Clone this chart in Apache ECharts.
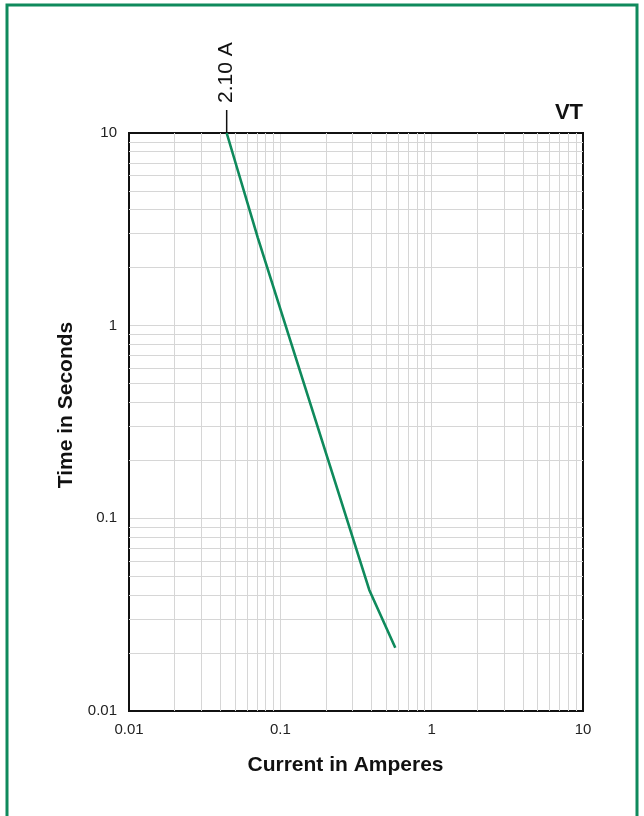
<!DOCTYPE html>
<html>
<head>
<meta charset="utf-8">
<script src="https://cdn.jsdelivr.net/npm/echarts@6/dist/echarts.min.js"></script>
<style>
html,body{margin:0;padding:0;background:#fff;}
#chart{width:644px;height:816px;}
</style>
</head>
<body>
<div id="chart"></div>
<script>
// Data
const currentA = [0.0442, 0.0711, 0.387, 0.575];
const timeS = [10, 2.85, 0.0425, 0.0213];
const ratingValue = 0.0442;
const ratingLabel = '2.10 A';
const curveName = 'VT';
const xMinorGrid = [0.02,0.03,0.04,0.05,0.06,0.07,0.08,0.09,0.2,0.3,0.4,0.5,0.6,0.7,0.8,0.9,2,3,4,5,6,7,8,9];
const yMinorGrid = [0.02,0.03,0.04,0.05,0.06,0.07,0.08,0.09,0.2,0.3,0.4,0.5,0.6,0.7,0.8,0.9,2,3,4,5,6,7,8,9];

const GREEN = '#0f8a5c';
const GRID = '#d6d6d6';
const FONT = '"Liberation Sans", Arial, Helvetica, sans-serif';

const chart = echarts.init(document.getElementById('chart'), null, {renderer:'canvas'});

const curveData = currentA.map((c,i)=>[c, timeS[i]]);
const gridLines = xMinorGrid.map(v=>({xAxis:v})).concat(yMinorGrid.map(v=>({yAxis:v})));

chart.setOption({
  animation:false,
  backgroundColor:'#fff',
  grid:{left:129, right:61, top:133, bottom:105, show:true, borderColor:'#111', borderWidth:2, backgroundColor:'transparent', z:3},
  xAxis:{
    type:'log', logBase:10, min:0.01, max:10,
    name:'Current in Amperes', nameLocation:'middle', nameGap:44,
    nameTextStyle:{fontFamily:FONT, fontSize:21, fontWeight:'bold', color:'#111', padding:[0,21,0,0]},
    axisLine:{show:false}, axisTick:{show:false},
    axisLabel:{fontFamily:FONT, fontSize:15, color:'#222', margin:11},
    splitLine:{show:true, lineStyle:{color:GRID, width:1}}
  },
  yAxis:{
    type:'log', logBase:10, min:0.01, max:10,
    name:'Time in Seconds', nameLocation:'middle', nameGap:38,
    nameTextStyle:{fontFamily:FONT, fontSize:21, fontWeight:'bold', color:'#111', padding:[0,0,0,34]},
    axisLine:{show:false}, axisTick:{show:false},
    axisLabel:{fontFamily:FONT, fontSize:15, color:'#222', margin:12},
    splitLine:{show:true, lineStyle:{color:GRID, width:1}}
  },
  series:[
    {
      type:'line', data:[], silent:true,
      markLine:{silent:true, symbol:'none', animation:false, label:{show:false},
        lineStyle:{color:GRID, width:1, type:'solid'}, data:gridLines}
    },
    {
      type:'line', name:curveName, data:curveData, showSymbol:false, smooth:false,
      lineStyle:{color:GREEN, width:2.6}, z:5
    }
  ]
});

// Rating marker and curve label placed via the chart's own coordinate conversion
const ratingPt = chart.convertToPixel({gridIndex:0}, [ratingValue, 10]);
const cornerPt = chart.convertToPixel({gridIndex:0}, [10, 10]);
chart.setOption({
  graphic:[
    {type:'rect', shape:{x:7, y:5, width:630, height:830}, style:{fill:'none', stroke:GREEN, lineWidth:3}, silent:true},
    {type:'line', shape:{x1:ratingPt[0], y1:ratingPt[1], x2:ratingPt[0], y2:ratingPt[1]-23}, style:{stroke:'#111', lineWidth:1.5}, z:10},
    {type:'text', x:ratingPt[0], y:ratingPt[1]-30, rotation:Math.PI/2,
      style:{text:ratingLabel, fontFamily:FONT, fontSize:21, fill:'#111', align:'left', verticalAlign:'middle'}, z:10},
    {type:'text', x:cornerPt[0], y:cornerPt[1]-9,
      style:{text:curveName, fontFamily:FONT, fontSize:22, fontWeight:'bold', fill:'#111', align:'right', verticalAlign:'bottom'}, z:10}
  ]
});
</script>
</body>
</html>
